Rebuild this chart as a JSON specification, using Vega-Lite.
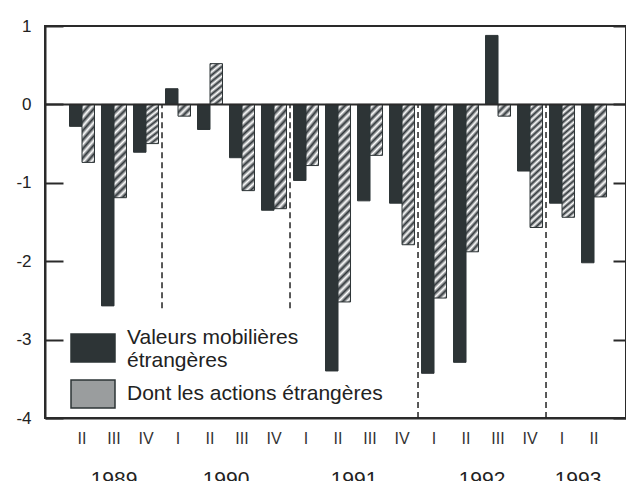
{
  "$schema": "https://vega.github.io/schema/vega-lite/v6.json",
  "width": 581,
  "height": 392,
  "autosize": "none",
  "padding": {"left": 45, "top": 26, "right": 0, "bottom": 63},
  "background": "white",
  "config": {
    "font": "Liberation Sans",
    "view": {"stroke": "#2a2a2a", "strokeWidth": 2}
  },
  "datasets": {
    "bars": [
      {"q": "1989 II", "series": "Valeurs mobilières étrangères", "v": -0.28},
      {"q": "1989 II", "series": "Dont les actions étrangères", "v": -0.74},
      {"q": "1989 III", "series": "Valeurs mobilières étrangères", "v": -2.57},
      {"q": "1989 III", "series": "Dont les actions étrangères", "v": -1.19},
      {"q": "1989 IV", "series": "Valeurs mobilières étrangères", "v": -0.61},
      {"q": "1989 IV", "series": "Dont les actions étrangères", "v": -0.5},
      {"q": "1990 I", "series": "Valeurs mobilières étrangères", "v": 0.2},
      {"q": "1990 I", "series": "Dont les actions étrangères", "v": -0.15},
      {"q": "1990 II", "series": "Valeurs mobilières étrangères", "v": -0.32},
      {"q": "1990 II", "series": "Dont les actions étrangères", "v": 0.52},
      {"q": "1990 III", "series": "Valeurs mobilières étrangères", "v": -0.68},
      {"q": "1990 III", "series": "Dont les actions étrangères", "v": -1.1},
      {"q": "1990 IV", "series": "Valeurs mobilières étrangères", "v": -1.35},
      {"q": "1990 IV", "series": "Dont les actions étrangères", "v": -1.33},
      {"q": "1991 I", "series": "Valeurs mobilières étrangères", "v": -0.97},
      {"q": "1991 I", "series": "Dont les actions étrangères", "v": -0.78},
      {"q": "1991 II", "series": "Valeurs mobilières étrangères", "v": -3.4},
      {"q": "1991 II", "series": "Dont les actions étrangères", "v": -2.52},
      {"q": "1991 III", "series": "Valeurs mobilières étrangères", "v": -1.23},
      {"q": "1991 III", "series": "Dont les actions étrangères", "v": -0.65},
      {"q": "1991 IV", "series": "Valeurs mobilières étrangères", "v": -1.26},
      {"q": "1991 IV", "series": "Dont les actions étrangères", "v": -1.79},
      {"q": "1992 I", "series": "Valeurs mobilières étrangères", "v": -3.43},
      {"q": "1992 I", "series": "Dont les actions étrangères", "v": -2.47},
      {"q": "1992 II", "series": "Valeurs mobilières étrangères", "v": -3.29},
      {"q": "1992 II", "series": "Dont les actions étrangères", "v": -1.88},
      {"q": "1992 III", "series": "Valeurs mobilières étrangères", "v": 0.88},
      {"q": "1992 III", "series": "Dont les actions étrangères", "v": -0.15},
      {"q": "1992 IV", "series": "Valeurs mobilières étrangères", "v": -0.85},
      {"q": "1992 IV", "series": "Dont les actions étrangères", "v": -1.57},
      {"q": "1993 I", "series": "Valeurs mobilières étrangères", "v": -1.26},
      {"q": "1993 I", "series": "Dont les actions étrangères", "v": -1.44},
      {"q": "1993 II", "series": "Valeurs mobilières étrangères", "v": -2.02},
      {"q": "1993 II", "series": "Dont les actions étrangères", "v": -1.18}
    ],
    "bounds": [
      {"q": "1989 IV", "end": -2.6},
      {"q": "1990 IV", "end": -2.6},
      {"q": "1991 IV", "end": -4},
      {"q": "1992 IV", "end": -4}
    ]
  },
  "layer": [
    {
      "data": {"name": "bounds"},
      "mark": {"type": "rule", "stroke": "#222", "strokeWidth": 1.5, "strokeDash": [6, 4]},
      "encoding": {
        "x": {
          "field": "q", "type": "nominal", "bandPosition": 1,
          "scale": {"domain": ["1989 II","1989 III","1989 IV","1990 I","1990 II","1990 III","1990 IV","1991 I","1991 II","1991 III","1991 IV","1992 I","1992 II","1992 III","1992 IV","1993 I","1993 II"], "paddingInner": 0, "paddingOuter": 0.578, "align": 0.568},
          "axis": {
            "orient": "bottom", "offset": 0, "title": null, "ticks": false, "domain": false, "grid": false,
            "values": ["1989 III", "1990 II", "1991 II", "1992 II", "1993 I"],
            "labelExpr": "split(datum.label, ' ')[0]",
            "labelOffset": {"condition": {"test": "datum.value == '1989 III'", "value": 0}, "value": 16},
            "labelAngle": 0, "labelFont": "Liberation Sans", "labelFontSize": 21, "labelColor": "#222", "labelPadding": 50
          }
        },
        "y": {"field": "end", "type": "quantitative", "scale": {"domain": [-4, 1], "nice": false}, "axis": null},
        "y2": {"datum": 0}
      }
    },
    {
      "data": {"name": "bars"},
      "mark": {"type": "bar", "stroke": "#2d3436", "strokeWidth": 1},
      "encoding": {
        "x": {
          "field": "q", "type": "nominal",
          "scale": {"domain": ["1989 II","1989 III","1989 IV","1990 I","1990 II","1990 III","1990 IV","1991 I","1991 II","1991 III","1991 IV","1992 I","1992 II","1992 III","1992 IV","1993 I","1993 II"], "paddingInner": 0, "paddingOuter": 0.578, "align": 0.568},
          "axis": {
            "orient": "bottom", "offset": 0, "title": null, "ticks": false, "grid": false,
            "domainColor": "#2a2a2a", "domainWidth": 2,
            "labelExpr": "split(datum.label, ' ')[1]",
            "labelAngle": 0, "labelFont": "Liberation Sans", "labelFontSize": 16, "labelColor": "#333", "labelPadding": 12
          }
        },
        "xOffset": {
          "field": "series", "type": "nominal",
          "scale": {"domain": ["Valeurs mobilières étrangères", "Dont les actions étrangères"], "paddingInner": 0, "paddingOuter": 0.28}
        },
        "y": {
          "field": "v", "type": "quantitative",
          "scale": {"domain": [-4, 1], "nice": false},
          "axis": {
            "orient": "left", "title": null, "grid": false, "values": [-4, -3, -2, -1, 0, 1],
            "labelExpr": "datum.value < 0 ? '-' + abs(datum.value) : '' + datum.value",
            "domainColor": "#2a2a2a", "domainWidth": 2,
            "tickColor": "#2a2a2a", "tickWidth": 2, "tickSize": -18,
            "labelFont": "Liberation Sans", "labelFontSize": 17, "labelColor": "#222", "labelPadding": 32
          }
        },
        "fill": {
          "field": "series", "type": "nominal",
          "scale": {"domain": ["Valeurs mobilières étrangères", "Dont les actions étrangères"], "range": ["#2d3436", "#9a9d9e"]},
          "condition": [
            {"test": "datum.series == 'Dont les actions étrangères' && abs(datum.v) < 0.3", "value": {"gradient": "linear", "x1": 0, "y1": 0, "x2": 1.03, "y2": 0.968, "stops": [
              {"offset": 0, "color": "#30363a"}, {"offset": 0.1667, "color": "#fff"}, {"offset": 0.3333, "color": "#30363a"}, {"offset": 0.5, "color": "#fff"}, {"offset": 0.6667, "color": "#30363a"}, {"offset": 0.8333, "color": "#fff"}, {"offset": 1, "color": "#30363a"}]}},
            {"test": "datum.series == 'Dont les actions étrangères' && abs(datum.v) < 0.9", "value": {"gradient": "linear", "x1": 0, "y1": 0, "x2": 0.294, "y2": 1.176, "stops": [
              {"offset": 0, "color": "#30363a"}, {"offset": 0.0625, "color": "#fff"}, {"offset": 0.125, "color": "#30363a"}, {"offset": 0.1875, "color": "#fff"}, {"offset": 0.25, "color": "#30363a"}, {"offset": 0.3125, "color": "#fff"}, {"offset": 0.375, "color": "#30363a"}, {"offset": 0.4375, "color": "#fff"}, {"offset": 0.5, "color": "#30363a"}, {"offset": 0.5625, "color": "#fff"}, {"offset": 0.625, "color": "#30363a"}, {"offset": 0.6875, "color": "#fff"}, {"offset": 0.75, "color": "#30363a"}, {"offset": 0.8125, "color": "#fff"}, {"offset": 0.875, "color": "#30363a"}, {"offset": 0.9375, "color": "#fff"}, {"offset": 1, "color": "#30363a"}]}},
            {"test": "datum.series == 'Dont les actions étrangères' && abs(datum.v) < 1.4", "value": {"gradient": "linear", "x1": 0, "y1": 0, "x2": 0.148, "y2": 1.113, "stops": [
              {"offset": 0, "color": "#30363a"}, {"offset": 0.04, "color": "#fff"}, {"offset": 0.08, "color": "#30363a"}, {"offset": 0.12, "color": "#fff"}, {"offset": 0.16, "color": "#30363a"}, {"offset": 0.2, "color": "#fff"}, {"offset": 0.24, "color": "#30363a"}, {"offset": 0.28, "color": "#fff"}, {"offset": 0.32, "color": "#30363a"}, {"offset": 0.36, "color": "#fff"}, {"offset": 0.4, "color": "#30363a"}, {"offset": 0.44, "color": "#fff"}, {"offset": 0.48, "color": "#30363a"}, {"offset": 0.52, "color": "#fff"}, {"offset": 0.56, "color": "#30363a"}, {"offset": 0.6, "color": "#fff"}, {"offset": 0.64, "color": "#30363a"}, {"offset": 0.68, "color": "#fff"}, {"offset": 0.72, "color": "#30363a"}, {"offset": 0.76, "color": "#fff"}, {"offset": 0.8, "color": "#30363a"}, {"offset": 0.84, "color": "#fff"}, {"offset": 0.88, "color": "#30363a"}, {"offset": 0.92, "color": "#fff"}, {"offset": 0.96, "color": "#30363a"}, {"offset": 1, "color": "#fff"}]}},
            {"test": "datum.series == 'Dont les actions étrangères' && abs(datum.v) < 2.0", "value": {"gradient": "linear", "x1": 0, "y1": 0, "x2": 0.1028, "y2": 1.085, "stops": [
              {"offset": 0, "color": "#30363a"}, {"offset": 0.025, "color": "#fff"}, {"offset": 0.05, "color": "#30363a"}, {"offset": 0.075, "color": "#fff"}, {"offset": 0.1, "color": "#30363a"}, {"offset": 0.125, "color": "#fff"}, {"offset": 0.15, "color": "#30363a"}, {"offset": 0.175, "color": "#fff"}, {"offset": 0.2, "color": "#30363a"}, {"offset": 0.225, "color": "#fff"}, {"offset": 0.25, "color": "#30363a"}, {"offset": 0.275, "color": "#fff"}, {"offset": 0.3, "color": "#30363a"}, {"offset": 0.325, "color": "#fff"}, {"offset": 0.35, "color": "#30363a"}, {"offset": 0.375, "color": "#fff"}, {"offset": 0.4, "color": "#30363a"}, {"offset": 0.425, "color": "#fff"}, {"offset": 0.45, "color": "#30363a"}, {"offset": 0.475, "color": "#fff"}, {"offset": 0.5, "color": "#30363a"}, {"offset": 0.525, "color": "#fff"}, {"offset": 0.55, "color": "#30363a"}, {"offset": 0.575, "color": "#fff"}, {"offset": 0.6, "color": "#30363a"}, {"offset": 0.625, "color": "#fff"}, {"offset": 0.65, "color": "#30363a"}, {"offset": 0.675, "color": "#fff"}, {"offset": 0.7, "color": "#30363a"}, {"offset": 0.725, "color": "#fff"}, {"offset": 0.75, "color": "#30363a"}, {"offset": 0.775, "color": "#fff"}, {"offset": 0.8, "color": "#30363a"}, {"offset": 0.825, "color": "#fff"}, {"offset": 0.85, "color": "#30363a"}, {"offset": 0.875, "color": "#fff"}, {"offset": 0.9, "color": "#30363a"}, {"offset": 0.925, "color": "#fff"}, {"offset": 0.95, "color": "#30363a"}, {"offset": 0.975, "color": "#fff"}, {"offset": 1, "color": "#30363a"}]}},
            {"test": "datum.series == 'Dont les actions étrangères'", "value": {"gradient": "linear", "x1": 0, "y1": 0, "x2": 0.0676, "y2": 1.06, "stops": [
              {"offset": 0, "color": "#30363a"}, {"offset": 0.02, "color": "#fff"}, {"offset": 0.04, "color": "#30363a"}, {"offset": 0.06, "color": "#fff"}, {"offset": 0.08, "color": "#30363a"}, {"offset": 0.1, "color": "#fff"}, {"offset": 0.12, "color": "#30363a"}, {"offset": 0.14, "color": "#fff"}, {"offset": 0.16, "color": "#30363a"}, {"offset": 0.18, "color": "#fff"}, {"offset": 0.2, "color": "#30363a"}, {"offset": 0.22, "color": "#fff"}, {"offset": 0.24, "color": "#30363a"}, {"offset": 0.26, "color": "#fff"}, {"offset": 0.28, "color": "#30363a"}, {"offset": 0.3, "color": "#fff"}, {"offset": 0.32, "color": "#30363a"}, {"offset": 0.34, "color": "#fff"}, {"offset": 0.36, "color": "#30363a"}, {"offset": 0.38, "color": "#fff"}, {"offset": 0.4, "color": "#30363a"}, {"offset": 0.42, "color": "#fff"}, {"offset": 0.44, "color": "#30363a"}, {"offset": 0.46, "color": "#fff"}, {"offset": 0.48, "color": "#30363a"}, {"offset": 0.5, "color": "#fff"}, {"offset": 0.52, "color": "#30363a"}, {"offset": 0.54, "color": "#fff"}, {"offset": 0.56, "color": "#30363a"}, {"offset": 0.58, "color": "#fff"}, {"offset": 0.6, "color": "#30363a"}, {"offset": 0.62, "color": "#fff"}, {"offset": 0.64, "color": "#30363a"}, {"offset": 0.66, "color": "#fff"}, {"offset": 0.68, "color": "#30363a"}, {"offset": 0.7, "color": "#fff"}, {"offset": 0.72, "color": "#30363a"}, {"offset": 0.74, "color": "#fff"}, {"offset": 0.76, "color": "#30363a"}, {"offset": 0.78, "color": "#fff"}, {"offset": 0.8, "color": "#30363a"}, {"offset": 0.82, "color": "#fff"}, {"offset": 0.84, "color": "#30363a"}, {"offset": 0.86, "color": "#fff"}, {"offset": 0.88, "color": "#30363a"}, {"offset": 0.9, "color": "#fff"}, {"offset": 0.92, "color": "#30363a"}, {"offset": 0.94, "color": "#fff"}, {"offset": 0.96, "color": "#30363a"}, {"offset": 0.98, "color": "#fff"}, {"offset": 1, "color": "#30363a"}]}}
          ],
          "legend": {
            "orient": "none", "legendX": 17, "legendY": 291, "title": null, "direction": "vertical",
            "padding": 8,
            "symbolType": "M-1,-0.64H1V0.64H-1Z", "symbolSize": 1936,
            "symbolStrokeColor": "#2d3436", "symbolStrokeWidth": 1.5, "symbolOpacity": 1,
            "labelFont": "Liberation Sans", "labelFontSize": 21, "labelColor": "#222", "labelLimit": 400, "labelOffset": 11,
            "rowPadding": -2,
            "labelExpr": "datum.label == 'Valeurs mobilières étrangères' ? ['Valeurs mobilières', 'étrangères'] : datum.label",
            "encode": {
              "labels": {
                "update": {
                  "dy": [
                    {"test": "datum.value == 'Valeurs mobilières étrangères'", "value": -10},
                    {"value": 0}
                  ]
                }
              }
            }
          }
        }
      }
    },
    {
      "data": {"values": [{}]},
      "mark": {"type": "rule", "stroke": "#2a2a2a", "strokeWidth": 2},
      "encoding": {
        "y": {
          "datum": 0, "type": "quantitative",
          "scale": {"domain": [-4, 1], "nice": false},
          "axis": {
            "orient": "right", "title": null, "grid": false, "labels": false, "domain": false,
            "values": [-4, -3, -2, -1, 0, 1],
            "tickColor": "#2a2a2a", "tickWidth": 2, "tickSize": -13
          }
        }
      }
    }
  ],
  "resolve": {"axis": {"x": "independent", "y": "independent"}}
}
